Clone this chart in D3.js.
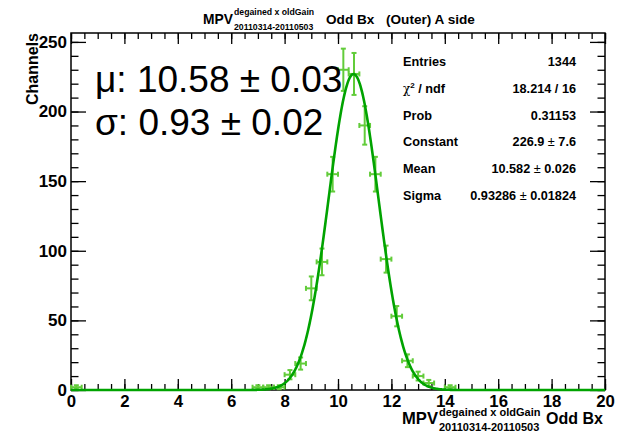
<!DOCTYPE html>
<html><head><meta charset="utf-8">
<script src="https://cdn.jsdelivr.net/npm/d3@7"></script>
<style>
body{margin:0;background:#fff}
text{font-family:"Liberation Sans",Arial,Helvetica,sans-serif}
</style>
</head><body>
<svg id="c" width="624" height="433"></svg>
<script>
// ---- data ----
const binCenters = [0.2, 7.0, 7.4, 7.8, 8.2, 8.6, 9.0, 9.4, 9.8, 10.2, 10.6, 11.0, 11.4, 11.8, 12.2, 12.6, 13.0, 13.4, 14.2];
const counts     = [2,   2,   2,   2,   11,  19,  73,  92,  155, 230,  227,  190,  155,  94,   53,   21,   10,   5,    2];
const binHalfWidth = 0.2;
// Gaussian fit parameters (Constant, Mean, Sigma)
const fitParams = [226.9, 10.582, 0.93286];
const xTickValues = [0, 2, 4, 6, 8, 10, 12, 14, 16, 18, 20];
const yTickValues = [0, 50, 100, 150, 200, 250];
const statLabels = ["Entries", "chi2", "Prob", "Constant", "Mean", "Sigma"];
const statValues = ["1344", "18.214 / 16", "0.31153", "226.9 \u00b1 7.6", "10.582 \u00b1 0.026", "0.93286 \u00b1 0.01824"];
const bigLines = ["\u03bc: 10.58 \u00b1 0.03", "\u03c3: 0.93 \u00b1 0.02"];

// ---- layout ----
const svg = d3.select("#c");
const L = 71, R = 605, T = 33, B = 390;
const x = d3.scaleLinear().domain([0, 20]).range([L, R]);
const y = d3.scaleLinear().domain([0, 256.4]).range([B, T]);

const xMinor = d3.range(0, 20.001, 0.5);
const yMinor = d3.range(0, 256, 10);

function styleAxis(g){ g.select(".domain").remove(); g.selectAll("line").attr("stroke","#000").attr("stroke-width",1.3); }

// bottom
svg.append("g").attr("transform",`translate(0,${B})`)
  .call(d3.axisBottom(x).tickValues(xMinor).tickSize(-6).tickFormat("")).call(styleAxis);
svg.append("g").attr("transform",`translate(0,${B})`)
  .call(d3.axisBottom(x).tickValues(xTickValues).tickSize(-11).tickPadding(5).tickFormat(d3.format("d")))
  .call(styleAxis)
  .call(g=>g.selectAll("text").attr("font-size",16.8).attr("font-weight","bold").attr("fill","#000"));
// top
svg.append("g").attr("transform",`translate(0,${T})`)
  .call(d3.axisTop(x).tickValues(xMinor).tickSize(-6).tickFormat("")).call(styleAxis);
svg.append("g").attr("transform",`translate(0,${T})`)
  .call(d3.axisTop(x).tickValues(xTickValues).tickSize(-11).tickFormat("")).call(styleAxis);
// left
svg.append("g").attr("transform",`translate(${L},0)`)
  .call(d3.axisLeft(y).tickValues(yMinor).tickSize(-7.5).tickFormat("")).call(styleAxis);
svg.append("g").attr("transform",`translate(${L},0)`)
  .call(d3.axisLeft(y).tickValues(yTickValues).tickSize(-15).tickPadding(4).tickFormat(d3.format("d")))
  .call(styleAxis)
  .call(g=>g.selectAll("text").attr("font-size",17).attr("font-weight","bold").attr("fill","#000"));
// right
svg.append("g").attr("transform",`translate(${R},0)`)
  .call(d3.axisRight(y).tickValues(yMinor).tickSize(-7.5).tickFormat("")).call(styleAxis);
svg.append("g").attr("transform",`translate(${R},0)`)
  .call(d3.axisRight(y).tickValues(yTickValues).tickSize(-15).tickFormat("")).call(styleAxis);

// frame
svg.append("rect").attr("x",L).attr("y",T).attr("width",R-L).attr("height",B-T)
  .attr("fill","none").attr("stroke","#000").attr("stroke-width",1.5);

// ---- data points with error bars ----
const ptColor = "#62cc3a";
const pts = svg.append("g").attr("stroke", ptColor).attr("stroke-width", 2).attr("fill","none");
binCenters.forEach((c, i) => {
  const n = counts[i], e = Math.sqrt(n);
  const cx = x(c), cy = y(n);
  const x0 = x(c - binHalfWidth), x1 = x(c + binHalfWidth);
  const y0 = y(Math.max(0, n - e)), y1 = y(n + e);
  pts.append("line").attr("x1",x0).attr("x2",x1).attr("y1",cy).attr("y2",cy);
  pts.append("line").attr("x1",x0).attr("x2",x0).attr("y1",cy-2.5).attr("y2",cy+2.5);
  pts.append("line").attr("x1",x1).attr("x2",x1).attr("y1",cy-2.5).attr("y2",cy+2.5);
  pts.append("line").attr("x1",cx).attr("x2",cx).attr("y1",y0).attr("y2",y1);
  pts.append("line").attr("x1",cx-2.5).attr("x2",cx+2.5).attr("y1",y0).attr("y2",y0);
  pts.append("line").attr("x1",cx-2.5).attr("x2",cx+2.5).attr("y1",y1).attr("y2",y1);
});

// ---- fit curve ----
const [A, mu, sg] = fitParams;
const fx = d3.range(0, 20.0001, 0.02);
const line = d3.line().x(d => x(d)).y(d => y(A * Math.exp(-0.5 * ((d - mu) / sg) ** 2)));
svg.append("path").datum(fx).attr("d", line).attr("fill","none")
  .attr("stroke","#00a300").attr("stroke-width",2.6);

// ---- title ----
const title = svg.append("g").attr("font-weight","bold").attr("fill","#000");
title.append("text").attr("x",203).attr("y",24).attr("font-size",13.8).text("MPV");
title.append("text").attr("x",234).attr("y",15).attr("font-size",8.7).text("degained x oldGain");
title.append("text").attr("x",234).attr("y",30).attr("font-size",8.7).text("20110314-20110503");
title.append("text").attr("x",326).attr("y",24).attr("font-size",13.6).text("Odd Bx");
title.append("text").attr("x",386).attr("y",24).attr("font-size",13.6).text("(Outer) A side");

// ---- axis titles ----
const xt = svg.append("g").attr("font-weight","bold").attr("fill","#000");
xt.append("text").attr("x",402).attr("y",424).attr("font-size",16.6).text("MPV");
xt.append("text").attr("x",439).attr("y",416).attr("font-size",11).text("degained x oldGain");
xt.append("text").attr("x",439).attr("y",431).attr("font-size",11).text("20110314-20110503");
xt.append("text").attr("x",603).attr("y",424).attr("text-anchor","end").attr("font-size",16).text("Odd Bx");

svg.append("text").attr("transform","translate(38,33) rotate(-90)").attr("text-anchor","end")
  .attr("font-size",16).attr("font-weight","bold").text("Channels");

// ---- big annotation ----
bigLines.forEach((t, i) => {
  svg.append("text").attr("x", 95).attr("y", 92 + i * 43).attr("font-size", 37).attr("fill","#000").text(t);
});

// ---- stats box ----
const st = svg.append("g").attr("font-size",12.7).attr("font-weight","bold").attr("fill","#000");
statLabels.forEach((lab, i) => {
  const yy = 66 + i * 26.8;
  if (lab === "chi2") {
    const t = st.append("text").attr("x",403).attr("y",yy);
    t.append("tspan").attr("font-weight","normal").attr("font-family","DejaVu Serif, serif").attr("font-size",12).text("\u03c7");
    t.append("tspan").attr("font-size",8).attr("dy",-5).text("2");
    t.append("tspan").attr("dy",5).text(" / ndf");
  } else {
    st.append("text").attr("x",403).attr("y",yy).text(lab);
  }
  const v = statValues[i];
  const tv = st.append("text").attr("x",576).attr("y",yy).attr("text-anchor","end");
  const parts = v.split("\u00b1");
  tv.append("tspan").text(parts[0]);
  if (parts.length > 1) {
    tv.append("tspan").attr("font-weight","normal").text("\u00b1");
    tv.append("tspan").text(parts[1]);
  }
});
</script>
</body></html>
